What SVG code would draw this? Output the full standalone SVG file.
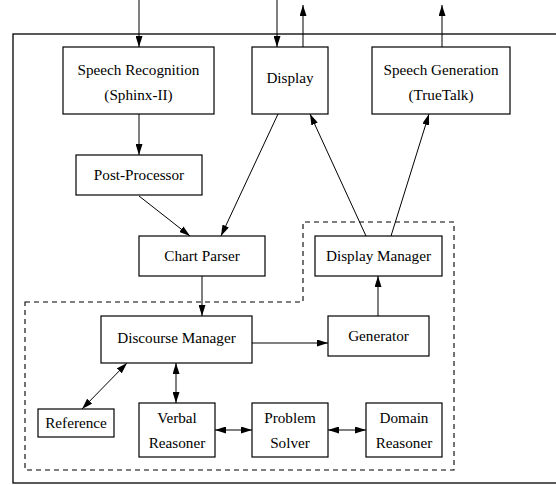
<svg xmlns="http://www.w3.org/2000/svg" width="556" height="485" viewBox="0 0 556 485">
<style>
.box{fill:#fff;stroke:#000;stroke-width:1.2}
.t{font-family:"Liberation Serif","Times New Roman",serif;font-size:15.2px;text-anchor:middle;fill:#000}
.c line{stroke:#000;stroke-width:1}
.frame{fill:none;stroke:#000;stroke-width:1.3}
.dash{fill:none;stroke:#000;stroke-width:1.1;stroke-dasharray:5,4}
</style>
<defs>
<marker id="ah" viewBox="0 0 11 7" refX="11" refY="3.5" markerWidth="11" markerHeight="7" markerUnits="userSpaceOnUse" orient="auto-start-reverse">
<path d="M0,0 L11,3.5 L0,7 z" fill="#000"/>
</marker>
</defs>
<rect class="frame" x="13" y="34" width="560" height="449"/>
<path class="dash" d="M25,302 L303,302 L303,222 L454,222 L454,470 L25,470 Z"/>
<g id="speech-recognition"><rect class="box" x="63" y="47" width="151" height="67"/><text class="t" x="138.5" y="75">Speech Recognition</text><text class="t" x="138.5" y="100">(Sphinx-II)</text></g>
<g id="display"><rect class="box" x="252" y="47" width="76" height="67"/><text class="t" x="290" y="83">Display</text></g>
<g id="speech-generation"><rect class="box" x="372" y="47" width="138" height="67"/><text class="t" x="441" y="75">Speech Generation</text><text class="t" x="441" y="100">(TrueTalk)</text></g>
<g id="post-processor"><rect class="box" x="76" y="155" width="126" height="40"/><text class="t" x="139" y="180">Post-Processor</text></g>
<g id="chart-parser"><rect class="box" x="139" y="236" width="126" height="40"/><text class="t" x="202" y="261">Chart Parser</text></g>
<g id="display-manager"><rect class="box" x="315" y="236" width="127" height="40"/><text class="t" x="378.5" y="261">Display Manager</text></g>
<g id="discourse-manager"><rect class="box" x="101" y="316" width="151" height="47"/><text class="t" x="176.5" y="343">Discourse Manager</text></g>
<g id="generator"><rect class="box" x="328" y="316" width="101" height="40"/><text class="t" x="378.5" y="341">Generator</text></g>
<g id="reference"><rect class="box" x="38" y="409" width="76" height="28"/><text class="t" x="76" y="428">Reference</text></g>
<g id="verbal-reasoner"><rect class="box" x="139" y="403" width="76" height="54"/><text class="t" x="177" y="423">Verbal</text><text class="t" x="177" y="448">Reasoner</text></g>
<g id="problem-solver"><rect class="box" x="252" y="403" width="76" height="54"/><text class="t" x="290" y="423">Problem</text><text class="t" x="290" y="448">Solver</text></g>
<g id="domain-reasoner"><rect class="box" x="366" y="403" width="76" height="54"/><text class="t" x="404" y="423">Domain</text><text class="t" x="404" y="448">Reasoner</text></g>
<g id="connectors" class="c">
<line x1="139" y1="0" x2="139" y2="47" marker-end="url(#ah)"/>
<line x1="277" y1="0" x2="277" y2="47" marker-end="url(#ah)"/>
<line x1="303" y1="47" x2="303" y2="5" marker-end="url(#ah)"/>
<line x1="442" y1="47" x2="442" y2="5" marker-end="url(#ah)"/>
<line x1="139" y1="114" x2="139" y2="155" marker-end="url(#ah)"/>
<line x1="139" y1="196" x2="190" y2="236" marker-end="url(#ah)"/>
<line x1="278" y1="114" x2="221" y2="236" marker-end="url(#ah)"/>
<line x1="366" y1="236" x2="310" y2="114" marker-end="url(#ah)"/>
<line x1="391" y1="236" x2="429" y2="114" marker-end="url(#ah)"/>
<line x1="202" y1="276" x2="202" y2="316" marker-end="url(#ah)"/>
<line x1="378" y1="316" x2="378" y2="276" marker-end="url(#ah)"/>
<line x1="252" y1="343" x2="328" y2="343" marker-end="url(#ah)"/>
<line x1="127" y1="363" x2="82" y2="409" marker-start="url(#ah)" marker-end="url(#ah)"/>
<line x1="176" y1="363" x2="176" y2="403" marker-start="url(#ah)" marker-end="url(#ah)"/>
<line x1="215" y1="430" x2="252" y2="430" marker-start="url(#ah)" marker-end="url(#ah)"/>
<line x1="328" y1="430" x2="366" y2="430" marker-start="url(#ah)" marker-end="url(#ah)"/>
</g>
</svg>
